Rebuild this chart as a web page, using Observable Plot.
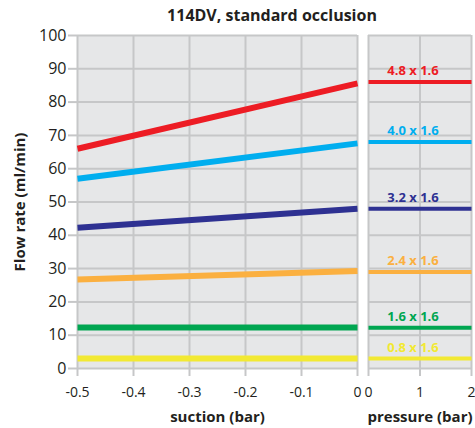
<!DOCTYPE html>
<html>
<head>
<meta charset="utf-8">
<script src="https://cdn.jsdelivr.net/npm/d3@7"></script>
<script src="https://cdn.jsdelivr.net/npm/@observablehq/plot@0.6"></script>
<style>
  html, body { margin: 0; padding: 0; background: #fff; }
  #wrap { position: relative; width: 475px; height: 428px; font-family: "Open Sans", sans-serif; }
  #title { position: absolute; top: 4px; left: 272px; transform: translateX(-50%); white-space: nowrap;
           font: bold 16px "Open Sans", sans-serif; color: #231f20; }
  #wrap svg { position: absolute; top: 0; overflow: visible; }
</style>
</head>
<body>
<div id="wrap"><div id="title">114DV, standard occlusion</div></div>
<script>
const series = ["4.8 x 1.6", "4.0 x 1.6", "3.2 x 1.6", "2.4 x 1.6", "1.6 x 1.6", "0.8 x 1.6"];
const colors = ["#ed1c24", "#00aeef", "#2e3192", "#fbb040", "#00a651", "#f2e933"];
const suctionX = [-0.5, 0];
const flowAtMinus05 = [66, 57, 42.3, 26.7, 12.3, 3];
const flowAt0 = [85.6, 67.6, 48, 29.3, 12.3, 3];
const flowPressure = [86, 68, 48, 29, 12.2, 3];
const yTicks = [0, 10, 20, 30, 40, 50, 60, 70, 80, 90, 100];
const suctionTicks = [-0.5, -0.4, -0.3, -0.2, -0.1, 0];
const pressureTicks = [0, 1, 2];

const suctionRows = series.flatMap((s, i) => [
  {series: s, x: suctionX[0], y: flowAtMinus05[i]},
  {series: s, x: suctionX[1], y: flowAt0[i]}
]);
const pressureRows = series.flatMap((s, i) => [
  {series: s, x: pressureTicks[0], y: flowPressure[i]},
  {series: s, x: pressureTicks[2], y: flowPressure[i]}
]);
const labelRows = series.map((s, i) => ({series: s, x: pressureTicks[1], y: flowPressure[i]}));

const colorScale = {domain: series, range: colors};
const gridColor = "#c6c7c8";
const panelFill = "#e6e7e8";
const textColor = "#231f20";

const left = Plot.plot({
  width: 362, height: 428,
  marginLeft: 77, marginRight: 5, marginTop: 35, marginBottom: 60,
  x: {domain: [-0.5, 0]},
  y: {domain: [0, 100]},
  color: colorScale,
  style: {fontFamily: "Open Sans, sans-serif", overflow: "visible"},
  marks: [
    Plot.frame({fill: panelFill, stroke: "none"}),
    Plot.ruleY(yTicks, {stroke: gridColor, strokeWidth: 2}),
    Plot.ruleX(suctionTicks, {stroke: gridColor, strokeWidth: 2}),
    Plot.line(suctionRows, {x: "x", y: "y", z: "series", stroke: "series", strokeWidth: 6, strokeLinecap: "butt"}),
    Plot.axisY({ticks: yTicks, tickSize: 9, tickPadding: 2, stroke: gridColor, strokeWidth: 2, fill: textColor, fontSize: 16, label: null}),
    Plot.axisX({ticks: suctionTicks, tickSize: 8, tickPadding: 11, stroke: gridColor, strokeWidth: 2, fill: textColor, fontSize: 14,
                tickFormat: d => d === 0 ? "0" : String(d), label: null}),
    Plot.text(["suction (bar)"], {frameAnchor: "bottom", dy: 49, lineAnchor: "middle", fontWeight: "bold", fontSize: 15, fill: textColor}),
    Plot.text(["Flow rate (ml/min)"], {frameAnchor: "left", dx: -57, rotate: -90, textAnchor: "middle", fontWeight: "bold", fontSize: 15, fill: textColor})
  ]
});

const right = Plot.plot({
  width: 113, height: 428,
  marginLeft: 6, marginRight: 4, marginTop: 35, marginBottom: 60,
  x: {domain: [0, 2]},
  y: {domain: [0, 100]},
  color: colorScale,
  style: {fontFamily: "Open Sans, sans-serif", overflow: "visible"},
  marks: [
    Plot.frame({fill: panelFill, stroke: "none"}),
    Plot.ruleY(yTicks, {stroke: gridColor, strokeWidth: 2}),
    Plot.ruleX(pressureTicks, {stroke: gridColor, strokeWidth: 2}),
    Plot.line(pressureRows, {x: "x", y: "y", z: "series", stroke: "series", strokeWidth: 4, strokeLinecap: "butt"}),
    Plot.text(labelRows, {x: "x", y: "y", text: "series", fill: "series", dx: -7, dy: -11, fontWeight: "bold", fontSize: 13}),
    Plot.axisY({ticks: [], label: null}),
    Plot.axisX({ticks: pressureTicks, tickSize: 8, tickPadding: 11, stroke: gridColor, strokeWidth: 2, fill: textColor, fontSize: 14,
                tickFormat: d => String(d), label: null}),
    Plot.text(["pressure (bar)"], {frameAnchor: "bottom", dy: 49, lineAnchor: "middle", fontWeight: "bold", fontSize: 15, fill: textColor})
  ]
});
left.style.left = "0px";
right.style.left = "362px";
document.getElementById("wrap").append(left, right);
</script>
</body>
</html>
